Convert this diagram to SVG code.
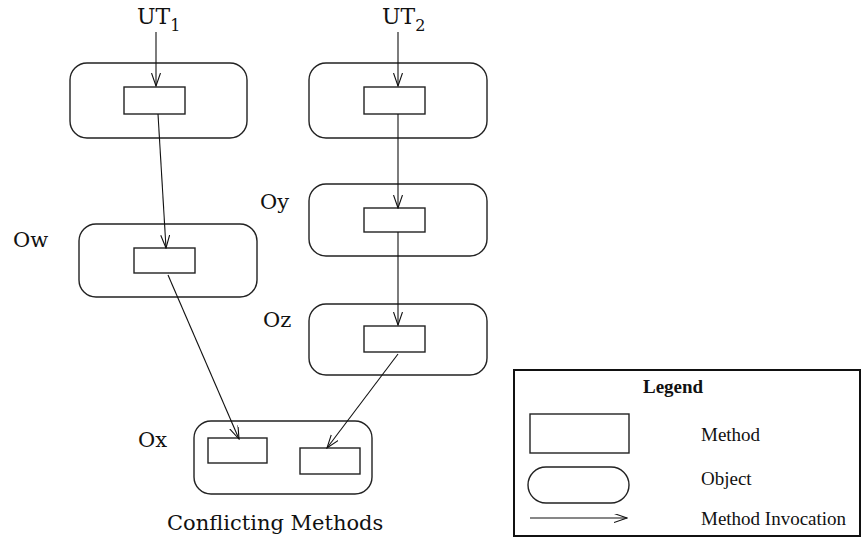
<svg xmlns="http://www.w3.org/2000/svg" width="861" height="539" viewBox="0 0 861 539">
<style>
.obj{fill:none;stroke:#222;stroke-width:1.4}
.meth{fill:none;stroke:#222;stroke-width:1.4}
.con{fill:none;stroke:#111;stroke-width:1.1}
.lbl{font-family:"DejaVu Serif","Liberation Serif",serif;font-size:21px;fill:#111}
.leg{font-family:"Liberation Serif",serif;font-size:19px;fill:#111}
</style>
<defs>
<marker id="arr" markerUnits="userSpaceOnUse" markerWidth="14" markerHeight="10" refX="13" refY="4.5" orient="auto">
<path d="M0,0 L13,4.5 L0,9" fill="none" stroke="#111" stroke-width="1.1"/>
</marker>
</defs>
<rect width="861" height="539" fill="#fff"/>
<g id="ut1"><text class="lbl" x="137" y="24" style="font-size:22px">UT<tspan font-size="16" dy="7">1</tspan></text></g>
<g id="ut2"><text class="lbl" x="382" y="24" style="font-size:22px">UT<tspan font-size="16" dy="7">2</tspan></text></g>
<g id="obj1">
<rect class="obj" x="70" y="63" width="177" height="75" rx="17"/>
<rect class="meth" x="124" y="87" width="61" height="27"/>
</g>
<g id="obj2">
<rect class="obj" x="309" y="63" width="178" height="75" rx="17"/>
<rect class="meth" x="364" y="87" width="61" height="27"/>
</g>
<g id="Ow">
<text class="lbl" x="13" y="247">Ow</text>
<rect class="obj" x="79" y="224" width="178" height="73" rx="17"/>
<rect class="meth" x="134" y="248" width="61" height="25"/>
</g>
<g id="Oy">
<text class="lbl" x="260" y="209">Oy</text>
<rect class="obj" x="309" y="184" width="178" height="72" rx="17"/>
<rect class="meth" x="364" y="208" width="61" height="24"/>
</g>
<g id="Oz">
<text class="lbl" x="263" y="327">Oz</text>
<rect class="obj" x="309" y="304" width="178" height="71" rx="17"/>
<rect class="meth" x="364" y="326" width="61" height="26"/>
</g>
<g id="Ox">
<text class="lbl" x="138" y="447">Ox</text>
<rect class="obj" x="194" y="421" width="178" height="73" rx="17"/>
<rect class="meth" x="208" y="438" width="59" height="25"/>
<rect class="meth" x="300" y="448" width="60" height="26"/>
<text class="lbl" x="167" y="530">Conflicting Methods</text>
</g>
<g id="connectors">
<line class="con" x1="156" y1="32" x2="156" y2="86" marker-end="url(#arr)"/>
<line class="con" x1="398" y1="32" x2="398" y2="86" marker-end="url(#arr)"/>
<line class="con" x1="158" y1="114" x2="166" y2="248" marker-end="url(#arr)"/>
<line class="con" x1="398" y1="114" x2="398" y2="208" marker-end="url(#arr)"/>
<line class="con" x1="398" y1="232" x2="398" y2="325" marker-end="url(#arr)"/>
<line class="con" x1="168" y1="275" x2="239" y2="439" marker-end="url(#arr)"/>
<line class="con" x1="398" y1="354" x2="327" y2="448" marker-end="url(#arr)"/>
</g>
<g id="legend">
<rect x="514" y="370" width="346" height="166" fill="none" stroke="#111" stroke-width="2"/>
<text class="leg" x="643" y="393" font-weight="bold">Legend</text>
<rect class="meth" x="530" y="414" width="99" height="39"/>
<text class="leg" x="701" y="441">Method</text>
<rect class="obj" x="528" y="467" width="101" height="36" rx="18"/>
<text class="leg" x="701" y="485">Object</text>
<line class="con" x1="530" y1="518" x2="627" y2="518" marker-end="url(#arr)"/>
<text class="leg" x="701" y="525">Method Invocation</text>
</g>
</svg>
